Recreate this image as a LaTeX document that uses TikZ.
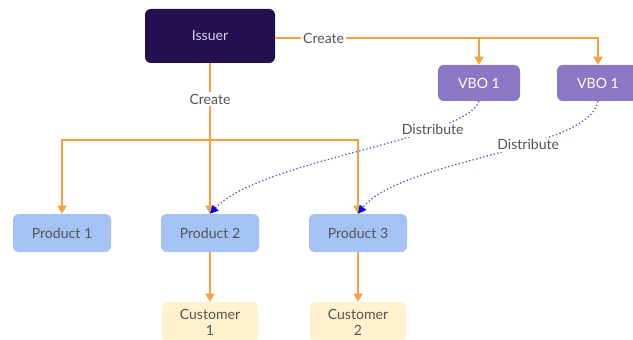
\documentclass[tikz,border=0pt]{standalone}
\usepackage{fontspec}
\setmainfont{Lato}
\usetikzlibrary{arrows.meta}
\definecolor{issuerfill}{HTML}{22104F}
\definecolor{issuertext}{HTML}{D8D0F0}
\definecolor{vbofill}{HTML}{8B78C4}
\definecolor{prodfill}{HTML}{A4C2F4}
\definecolor{custfill}{HTML}{FFF2CC}
\definecolor{labeltext}{HTML}{555555}
\definecolor{flow}{HTML}{F6A33E}
\definecolor{dots}{HTML}{5B4FD0}

\begin{document}
\begin{tikzpicture}[x=0.03cm, y=-0.03cm,
  every node/.style={font=\fontsize{12}{13.5}\selectfont, text=labeltext},
  box/.style={rectangle, rounded corners=5pt, inner sep=0pt},
  issuerbox/.style={box, fill=issuerfill, text=issuertext, minimum width=130*0.03cm, minimum height=54*0.03cm},
  vbobox/.style={box, fill=vbofill, text=white, minimum width=82*0.03cm, minimum height=36*0.03cm},
  prodbox/.style={box, fill=prodfill, minimum width=98*0.03cm, minimum height=38*0.03cm},
  custbox/.style={box, fill=custfill, minimum width=96*0.03cm, minimum height=40*0.03cm, align=center},
  create/.style={draw=flow, line width=0.9pt, -{Triangle[width=8pt, length=7pt]}},
  distribute/.style={draw=dots, line width=1.1pt, dotted, -{Triangle[width=7pt, length=7pt, fill=blue, color=blue]}},
  lbl/.style={fill=white, inner sep=1.5pt}]
  \useasboundingbox (0,0) rectangle (633,340);
  \clip (0,0) rectangle (633,340);
  \node[issuerbox] (issuer) at (210,36) {Issuer};
  \node[vbobox] (vboa) at (479,83) {VBO 1};
  \node[vbobox] (vbob) at (598,83) {VBO 1};
  \node[prodbox] (prod1) at (62,233) {Product 1};
  \node[prodbox] (prod2) at (210,233) {Product 2};
  \node[prodbox] (prod3) at (358,233) {Product 3};
  \node[custbox] (cust1) at (210,322) {Customer\\1};
  \node[custbox] (cust2) at (358,322) {Customer\\2};
  \coordinate (split) at (210,140);
  % issuer to vbo
  \draw[create] (issuer.east |- 0,38) -| (vbob.north) node[lbl, pos=0.075] (lblcreatea) {Create};
  \draw[create] (vboa.north |- 0,38) -- (vboa.north);
  % issuer to products
  \draw[create] (issuer.south) -- (prod2.north) node[lbl, pos=0.24] (lblcreateb) {Create};
  \draw[create] (split) -| (prod1.north);
  \draw[create] (split) -| (prod3.north);
  % products to customers
  \draw[create] (prod2.south) -- (cust1.north);
  \draw[create] (prod3.south) -- (cust2.north);
  % vbo to products
  \draw[distribute] (vboa.south) .. controls (465,140) and (260,160) .. (prod2.north)
    node[lbl, pos=0.27] (lbldista) {Distribute};
  \draw[distribute] (vbob.south) .. controls (590,150) and (400,160) .. (prod3.north)
    node[lbl, pos=0.38] (lbldistb) {Distribute};
\end{tikzpicture}
\end{document}
